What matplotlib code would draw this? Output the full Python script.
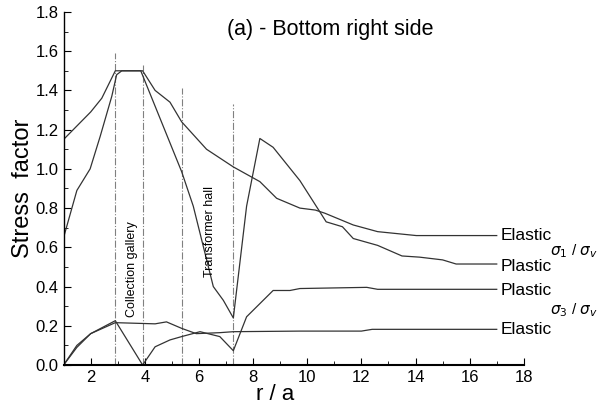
import numpy as np
import matplotlib.pyplot as plt
from matplotlib.ticker import MultipleLocator

plt.rcParams['font.family'] = ['Liberation Sans', 'DejaVu Sans']

# sigma1 / sigma_v, elastic
x_e1 = [1.0, 1.5, 2.0, 2.41, 2.91, 3.92, 4.38, 4.93, 5.36, 6.28, 7.27, 8.25,
        8.87, 9.73, 10.3, 10.65, 11.7, 12.6, 14.03, 17.0]
y_e1 = [1.15, 1.22, 1.29, 1.36, 1.50, 1.50, 1.40, 1.34, 1.24, 1.10, 1.01, 0.935,
        0.85, 0.80, 0.79, 0.774, 0.714, 0.68, 0.66, 0.66]

# sigma1 / sigma_v, plastic
x_p1 = [1.0, 1.49, 1.98, 2.35, 2.78, 2.96, 3.15, 3.85, 5.36, 5.79, 6.53, 6.9,
        7.27, 7.76, 8.25, 8.74, 9.73, 10.47, 10.7, 11.3, 11.7, 12.6, 13.5,
        14.15, 15.0, 15.5, 17.0]
y_p1 = [0.65, 0.89, 1.0, 1.165, 1.37, 1.48, 1.50, 1.50, 0.986, 0.81, 0.40, 0.33,
        0.24, 0.81, 1.155, 1.11, 0.94, 0.78, 0.73, 0.705, 0.645, 0.61, 0.556,
        0.55, 0.536, 0.515, 0.515]

# sigma3 / sigma_v, plastic
x_p3 = [1.0, 1.49, 2.0, 2.91, 3.92, 4.38, 4.93, 5.36, 6.04, 6.77, 7.27, 7.76,
        8.74, 9.36, 9.73, 12.2, 12.6, 17.0]
y_p3 = [0.0, 0.10, 0.16, 0.226, 0.0, 0.093, 0.128, 0.145, 0.17, 0.145, 0.073,
        0.246, 0.38, 0.38, 0.39, 0.396, 0.386, 0.386]

# sigma3 / sigma_v, elastic
x_e3 = [1.0, 1.49, 2.0, 2.91, 4.38, 4.8, 5.36, 5.9, 6.77, 7.27, 9.73, 12.0,
        12.4, 17.0]
y_e3 = [0.0, 0.09, 0.16, 0.216, 0.21, 0.22, 0.187, 0.16, 0.165, 0.17, 0.173,
        0.173, 0.182, 0.182]

# cavern boundaries (x, top of line)
wall_x = [2.91, 3.92, 5.36, 7.27]
wall_top = [1.59, 1.53, 1.41, 1.33]

fig = plt.figure(figsize=(6, 4.12), dpi=100)
ax = fig.add_axes([0.106, 0.114, 0.767, 0.857])

for xv, top in zip(wall_x, wall_top):
    ax.plot([xv, xv], [0, top], color='#808080', lw=0.8, ls='-.')

for xs, ys in [(x_e1, y_e1), (x_p1, y_p1), (x_p3, y_p3), (x_e3, y_e3)]:
    ax.plot(xs, ys, color='#333333', lw=0.9)

ax.set_xlim(1, 18)
ax.set_ylim(0, 1.8)
ax.xaxis.set_major_locator(MultipleLocator(2))
ax.xaxis.set_minor_locator(MultipleLocator(1))
ax.yaxis.set_major_locator(MultipleLocator(0.2))
ax.yaxis.set_minor_locator(MultipleLocator(0.1))
ax.yaxis.set_major_formatter(plt.FormatStrFormatter('%.1f'))
ax.tick_params(which='both', direction='in', labelsize=12)
ax.tick_params(which='major', length=5)
ax.tick_params(which='minor', length=3)
for s in ['top', 'right']:
    ax.spines[s].set_visible(False)
ax.spines['bottom'].set_linewidth(1.5)
ax.spines['left'].set_linewidth(1.0)

ax.set_ylabel('Stress  factor', fontsize=17)
ax.yaxis.set_label_coords(-0.065, 0.5)
ax.set_xlabel('r / a', fontsize=16)
ax.xaxis.set_label_coords(0.46, -0.055)

ax.text(10.84, 1.71, '(a) - Bottom right side', fontsize=15.5, ha='center', va='center')
ax.text(3.52, 0.49, 'Collection gallery', fontsize=9, rotation=90, ha='center', va='center')
ax.text(6.41, 0.68, 'Transformer hall', fontsize=9, rotation=90, ha='center', va='center')

for yv, lab in [(0.66, 'Elastic'), (0.50, 'Plastic'), (0.38, 'Plastic'), (0.18, 'Elastic')]:
    ax.text(17.15, yv, lab, fontsize=12.5, ha='left', va='center', clip_on=False)
ax.text(18.95, 0.58, r'$\sigma_1$ / $\sigma_v$', fontsize=11, ha='left', va='center', clip_on=False)
ax.text(18.95, 0.28, r'$\sigma_3$ / $\sigma_v$', fontsize=11, ha='left', va='center', clip_on=False)

fig.savefig('out.png', dpi=100)
